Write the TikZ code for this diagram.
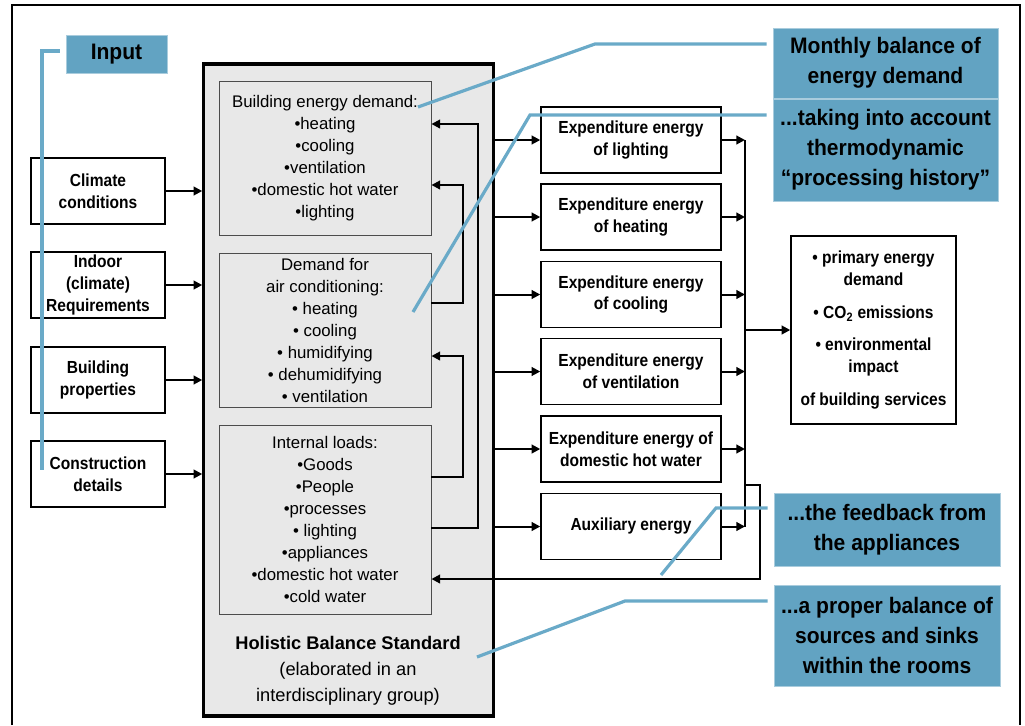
\documentclass[tikz,border=0pt]{standalone}
\usepackage{fontspec}
\setmainfont{Liberation Sans}
\newfontfamily\narrowfont[FakeStretch=0.89]{Liberation Sans}
\newfontfamily\calloutfont[FakeStretch=0.94]{Liberation Sans}
\usetikzlibrary{arrows.meta,positioning}

\definecolor{callblue}{HTML}{62A3C2}
\definecolor{leadblue}{HTML}{6AAAC8}
\definecolor{panelgray}{HTML}{E8E8E8}

\tikzset{
  inbox/.style={draw, fill=white, line width=1.1pt, minimum width=100.5pt, minimum height=49.5pt,
    align=center, inner sep=2pt, font=\narrowfont\fontsize{13.1}{16.2}\selectfont\bfseries},
  expbox/.style={inbox, minimum width=135pt},
  part/.style={draw=black!70, fill=panelgray, line width=0.7pt, minimum width=159pt,
    align=center, font=\fontsize{12.6}{16.5}\selectfont},
  callout/.style={fill=callblue, draw=callblue!55!white, line width=0.6pt, align=center,
    inner sep=0pt, font=\calloutfont\fontsize{16.8}{22.5}\selectfont\bfseries},
  arr/.style={-{Triangle[length=6.5pt,width=6.5pt]}, line width=1.5pt},
  lead/.style={leadblue, line width=2.4pt},
}

\begin{document}
\begin{tikzpicture}[x=0.75pt, y=-0.75pt]
\path[use as bounding box] (0,0) rectangle (1025,725);
\draw[line width=1.6pt] (12,725) -- (12,5) -- (1020,5) -- (1020,725);

% inputs
\node[inbox] (clim) at (98,191) {Climate\\conditions};
\node[inbox] (indoor) at (98,285) {Indoor\\(climate)\\Requirements};
\node[inbox] (bprop) at (98,380) {Building\\properties};
\node[inbox] (constr) at (98,474) {Construction\\details};

% holistic balance standard
\node[draw, line width=2.4pt, fill=panelgray, minimum width=217pt, minimum height=489pt] (hbs) at (348.5,390) {};
\node[part, minimum height=116pt] (bd) at (325,158.5) {Building energy demand:\\•heating\\•cooling\\•ventilation\\•domestic hot water\\•lighting};
\node[part, minimum height=115.5pt] (ac) at (325,330) {Demand for\\air conditioning:\\• heating\\• cooling\\• humidifying\\• dehumidifying\\• ventilation};
\node[part, minimum height=141.75pt] (ld) at (325,519.5) {Internal loads:\\•Goods\\•People\\•processes\\• lighting\\•appliances\\•domestic hot water\\•cold water};
\node[align=center, font=\fontsize{13.7}{19.5}\selectfont] (hbstxt) at (348,671) {\textbf{Holistic Balance Standard}\\(elaborated in an\\interdisciplinary group)};

% expenditure energies
\node[expbox] (e1) at (631,140) {Expenditure energy\\of lighting};
\node[expbox] (e2) at (631,217) {Expenditure energy\\of heating};
\node[expbox] (e3) at (631,294.5) {Expenditure energy\\of cooling};
\node[expbox] (e4) at (631,371.5) {Expenditure energy\\of ventilation};
\node[expbox] (e5) at (631,449) {Expenditure energy of\\domestic hot water};
\node[expbox] (e6) at (631,526.5) {Auxiliary energy};

\node[inbox, minimum width=123.75pt, minimum height=141pt, font=\narrowfont\fontsize{13.1}{16.5}\selectfont\bfseries] (res) at (873.5,330)
  {• primary energy\\demand\\[8pt]• CO\textsubscript{2} emissions\\[8pt]• environmental\\impact\\[8pt]of building services};

% callouts
\node[callout, minimum width=75.75pt, minimum height=28.5pt] (input) at (116.5,54) {Input};
\node[callout, minimum width=168.75pt, minimum height=52.5pt] (monthly) at (885.5,63) {Monthly balance of\\energy demand};
\node[callout, minimum width=168.75pt, minimum height=76.5pt] (history) at (885.5,150) {...taking into account\\thermodynamic\\“processing history”};
\node[callout, minimum width=169.5pt, minimum height=54.75pt] (feedback) at (887,529.5) {...the feedback from\\the appliances};
\node[callout, minimum width=169.5pt, minimum height=75.75pt] (rooms) at (887,635.5) {...a proper balance of\\sources and sinks\\within the rooms};

% inputs into the standard
\draw[arr] (clim) -- (clim -| hbs.west);
\draw[arr] (indoor) -- (indoor -| hbs.west);
\draw[arr] (bprop) -- (bprop -| hbs.west);
\draw[arr] (constr) -- (constr -| hbs.west);

% loops inside the standard
\coordinate (oa) at (478,528);
\coordinate (ob) at (478,124);
\coordinate (ia) at (463,303);
\coordinate (ib) at (463,185);
\coordinate (ic) at (463,477);
\coordinate (id) at (463,356);
\draw[arr] (oa -| ld.east) -- (oa) -- (ob) -- (ob -| bd.east);
\draw[arr] (ia -| ac.east) -- (ia) -- (ib) -- (ib -| bd.east);
\draw[arr] (ic -| ld.east) -- (ic) -- (id) -- (id -| ac.east);

% standard to expenditure
\draw[arr] (e1 -| hbs.east) -- (e1);
\draw[arr] (e2 -| hbs.east) -- (e2);
\draw[arr] (e3 -| hbs.east) -- (e3);
\draw[arr] (e4 -| hbs.east) -- (e4);
\draw[arr] (e5 -| hbs.east) -- (e5);
\draw[arr] (e6 -| hbs.east) -- (e6);

% collecting line
\coordinate (bus) at (745,0);
\draw[arr] (e1) -- (e1 -| bus);
\draw[arr] (e2) -- (e2 -| bus);
\draw[arr] (e3) -- (e3 -| bus);
\draw[arr] (e4) -- (e4 -| bus);
\draw[arr] (e5) -- (e5 -| bus);
\draw[arr] (e6) -- (e6 -| bus);
\draw[line width=1.5pt] (e1 -| bus) -- (e6 -| bus);
\draw[arr] (res -| bus) -- (res);

% feedback to internal loads
\coordinate (fbA) at (760,485);
\coordinate (fbB) at (760,579);
\draw[arr] (fbA -| bus) -- (fbA) -- (fbB) -- (fbB -| ld.east);

% leader lines
\coordinate (kI) at (42,51);
\coordinate (lIN) at (42,470);
\coordinate (kM) at (595,44);
\coordinate (lBD) at (418,107);
\coordinate (kH) at (530,115);
\coordinate (lAC) at (413,312);
\coordinate (kF) at (716,508);
\coordinate (lFB) at (661,575);
\coordinate (kR) at (625,601);
\coordinate (lHB) at (477,657);
\draw[lead] ([xshift=-4.5pt]kI -| input.west) -- (kI) -- (lIN);
\draw[lead] ([xshift=-4.5pt]kM -| monthly.west) -- (kM) -- (lBD);
\draw[lead] ([xshift=-4.5pt]kH -| history.west) -- (kH) -- (lAC);
\draw[lead] ([xshift=-4.5pt]kF -| feedback.west) -- (kF) -- (lFB);
\draw[lead] ([xshift=-4.5pt]kR -| rooms.west) -- (kR) -- (lHB);
\end{tikzpicture}
\end{document}
